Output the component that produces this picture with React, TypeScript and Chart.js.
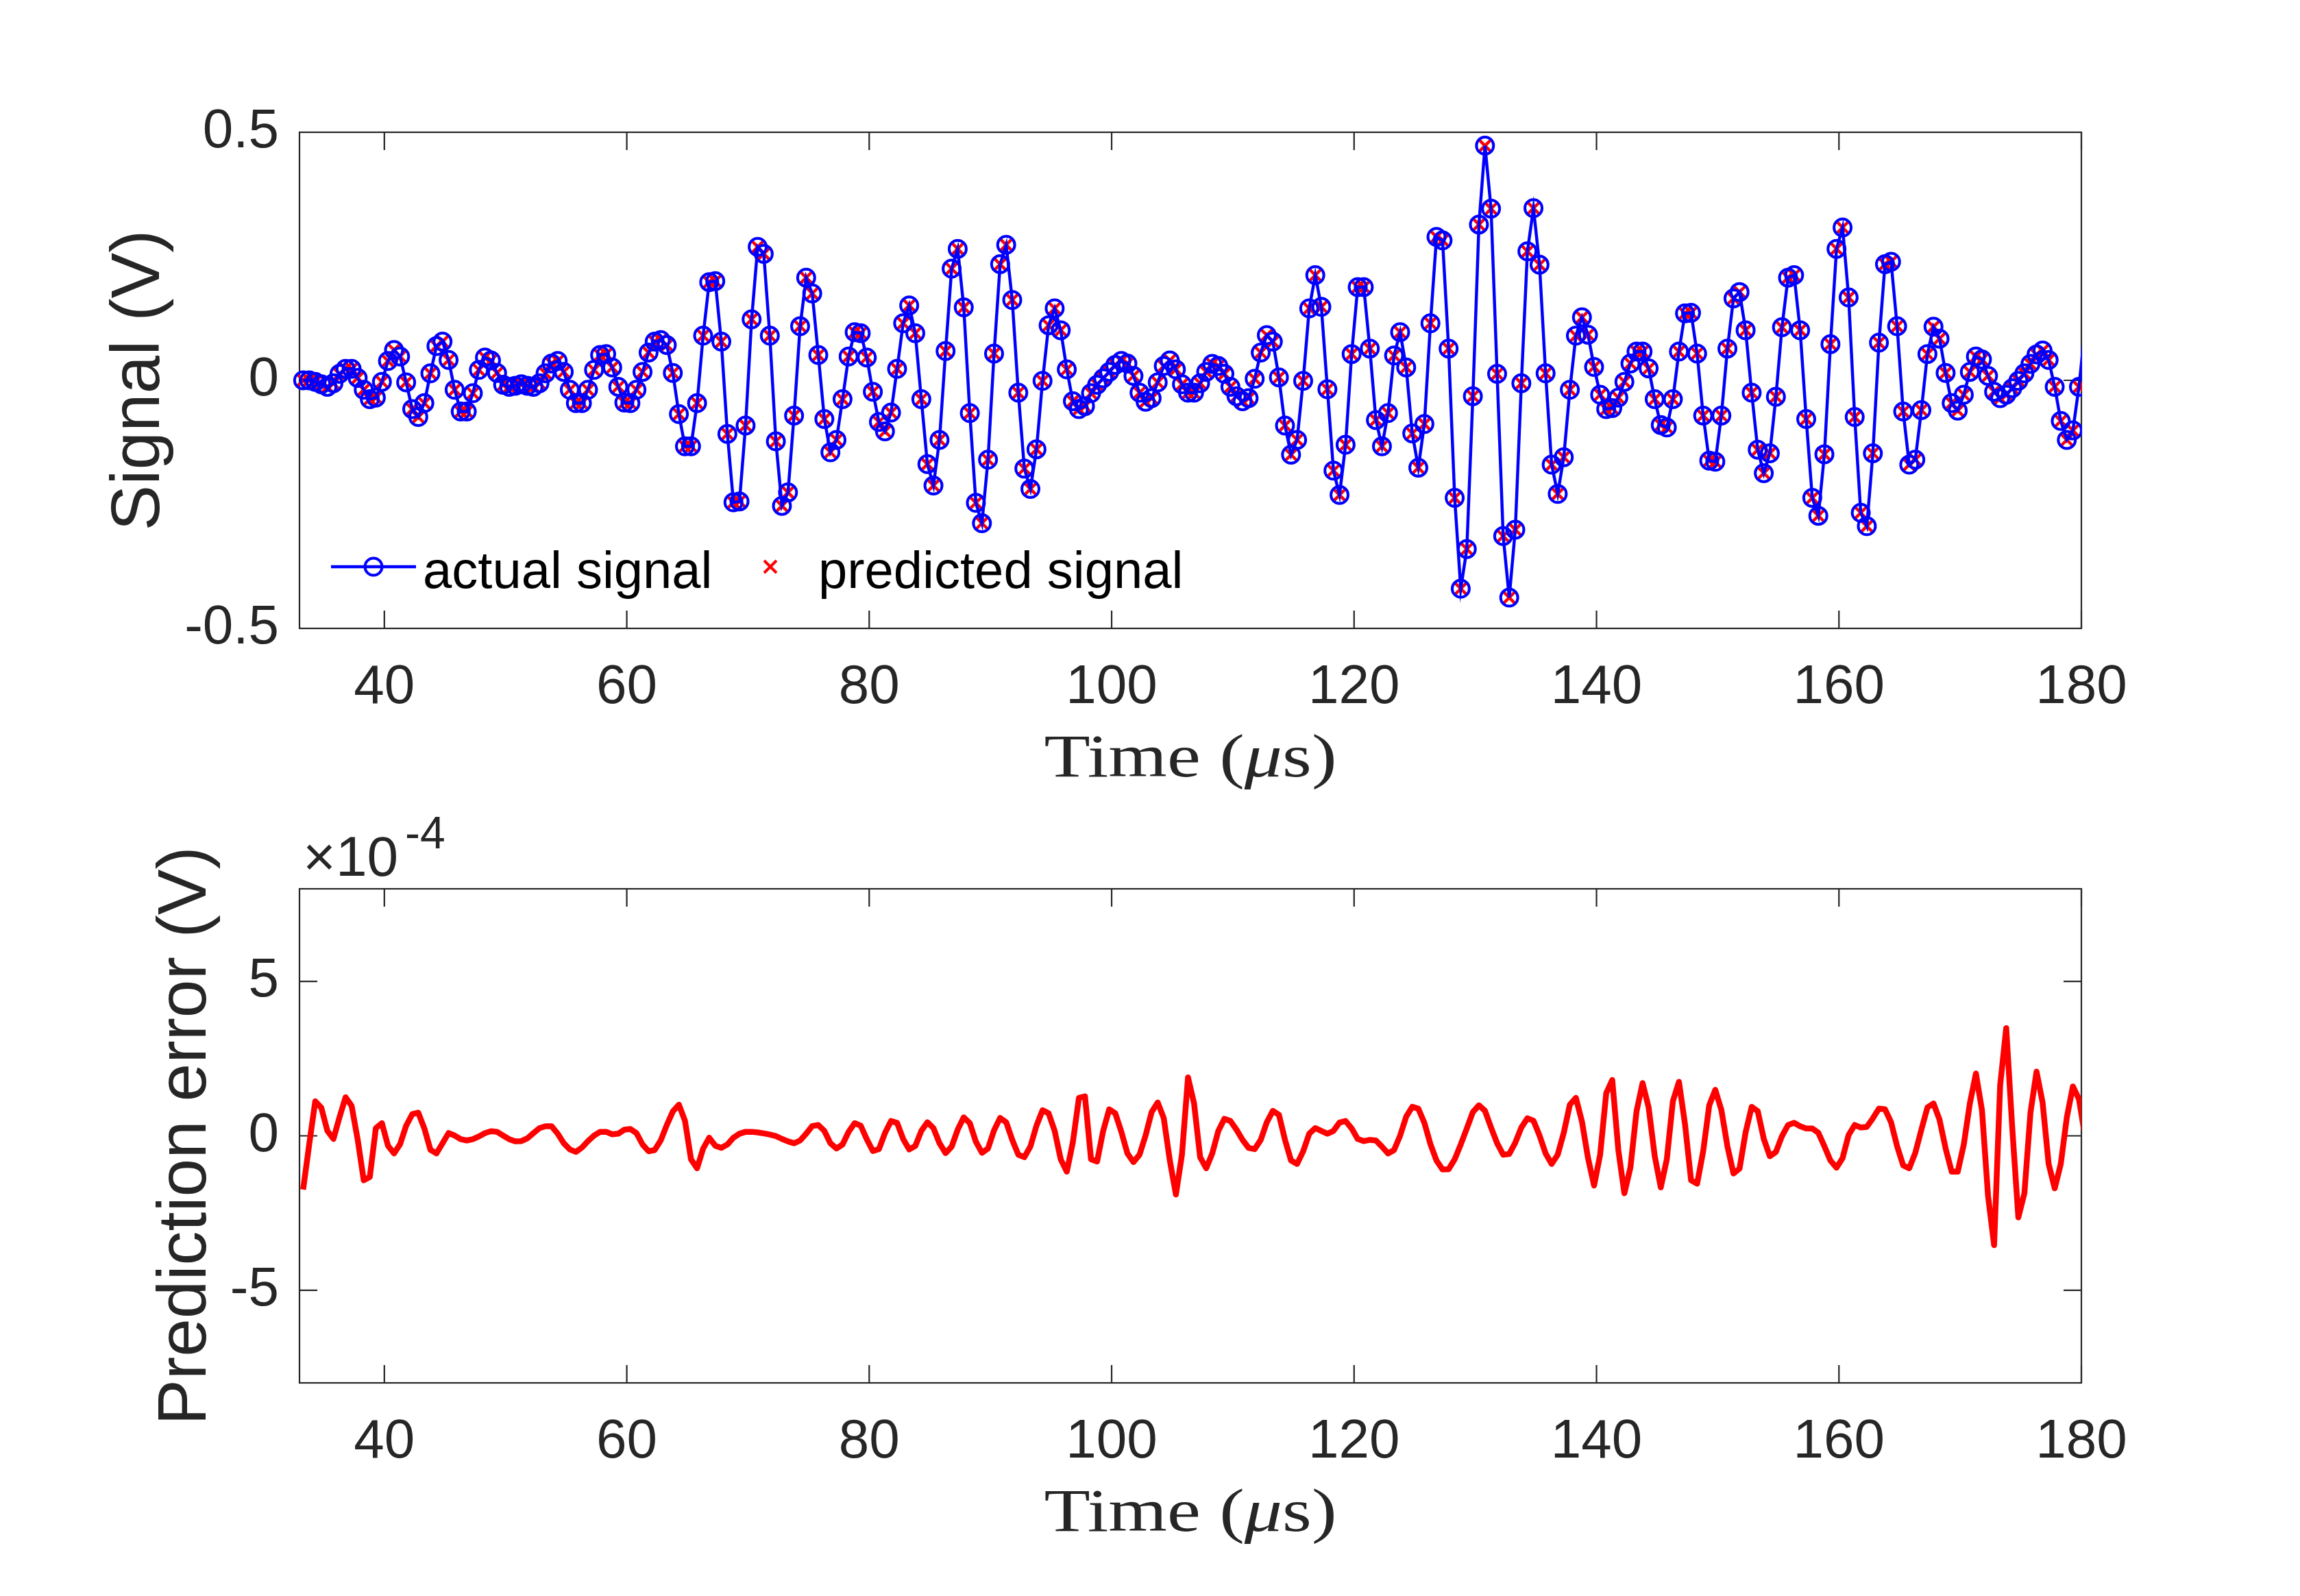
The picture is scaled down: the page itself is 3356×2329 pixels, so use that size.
import { useEffect, useRef } from "react"
import { Chart, registerables } from "chart.js"

Chart.register(...registerables)

// both records are sampled every 0.5 us, first sample at 33.3 us
const startTime = 33.3
const sampleStep = 0.5

// measured signal (V)
const actualSignal = [
  0, 0, -0.003, -0.008, -0.013, -0.006, 0.013, 0.023, 0.023, 0.005,
  -0.019, -0.038, -0.035, -0.003, 0.039, 0.061, 0.048, -0.004, -0.058, -0.074,
  -0.046, 0.014, 0.069, 0.078, 0.041, -0.019, -0.063, -0.063, -0.026, 0.021,
  0.046, 0.04, 0.015, -0.009, -0.013, -0.011, -0.008, -0.011, -0.013, -0.006,
  0.014, 0.034, 0.039, 0.017, -0.019, -0.046, -0.046, -0.019, 0.021, 0.051,
  0.053, 0.026, -0.013, -0.045, -0.046, -0.019, 0.017, 0.056, 0.078, 0.081,
  0.071, 0.015, -0.068, -0.133, -0.133, -0.046, 0.09, 0.198, 0.2, 0.078,
  -0.108, -0.246, -0.244, -0.091, 0.123, 0.269, 0.255, 0.09, -0.123, -0.253,
  -0.226, -0.071, 0.109, 0.207, 0.175, 0.051, -0.078, -0.145, -0.12, -0.038,
  0.048, 0.097, 0.095, 0.046, -0.023, -0.084, -0.103, -0.065, 0.023, 0.115,
  0.151, 0.095, -0.038, -0.169, -0.212, -0.12, 0.059, 0.225, 0.265, 0.147,
  -0.066, -0.247, -0.288, -0.16, 0.054, 0.234, 0.273, 0.162, -0.025, -0.178,
  -0.219, -0.139, -0.001, 0.111, 0.145, 0.101, 0.022, -0.042, -0.058, -0.052,
  -0.026, -0.009, 0.004, 0.017, 0.031, 0.039, 0.034, 0.009, -0.025, -0.043,
  -0.036, -0.004, 0.029, 0.04, 0.022, -0.008, -0.025, -0.025, -0.006, 0.017,
  0.033, 0.029, 0.013, -0.013, -0.032, -0.042, -0.036, 0.003, 0.056, 0.091,
  0.078, 0.006, -0.091, -0.15, -0.12, -0.001, 0.145, 0.212, 0.148, -0.018,
  -0.182, -0.231, -0.13, 0.053, 0.188, 0.188, 0.064, -0.08, -0.133, -0.066,
  0.05, 0.097, 0.026, -0.107, -0.176, -0.088, 0.115, 0.289, 0.282, 0.064,
  -0.237, -0.42, -0.34, -0.032, 0.314, 0.473, 0.346, 0.013, -0.314, -0.438,
  -0.301, -0.006, 0.26, 0.347, 0.233, 0.014, -0.17, -0.229, -0.155, -0.019,
  0.09, 0.127, 0.092, 0.027, -0.029, -0.058, -0.056, -0.035, -0.003, 0.034,
  0.058, 0.058, 0.024, -0.038, -0.09, -0.095, -0.038, 0.058, 0.135, 0.136,
  0.054, -0.071, -0.162, -0.164, -0.071, 0.064, 0.165, 0.178, 0.101, -0.025,
  -0.14, -0.187, -0.147, -0.033, 0.107, 0.207, 0.212, 0.101, -0.078, -0.237,
  -0.273, -0.149, 0.073, 0.265, 0.308, 0.167, -0.074, -0.267, -0.294, -0.147,
  0.076, 0.234, 0.239, 0.109, -0.063, -0.17, -0.16, -0.06, 0.053, 0.108,
  0.084, 0.015, -0.046, -0.061, -0.029, 0.017, 0.048, 0.042, 0.009, -0.023,
  -0.036, -0.029, -0.016, -0.001, 0.014, 0.033, 0.052, 0.06, 0.041, -0.013,
  -0.082, -0.12, -0.101, -0.013, 0.103,
]

// prediction error, in units of 1e-4 V
const predictionError = [
  -1.74, -0.28, 1.12, 0.91, 0.16, -0.1, 0.6, 1.25, 0.97, -0.12,
  -1.44, -1.33, 0.25, 0.41, -0.32, -0.57, -0.27, 0.33, 0.7, 0.75,
  0.24, -0.45, -0.57, -0.24, 0.09, 0.01, -0.11, -0.15, -0.11, -0.02,
  0.09, 0.15, 0.13, 0.01, -0.11, -0.18, -0.17, -0.08, 0.09, 0.25,
  0.31, 0.31, 0.07, -0.24, -0.44, -0.52, -0.38, -0.17, 0.01, 0.13,
  0.13, 0.05, 0.07, 0.2, 0.22, 0.09, -0.28, -0.5, -0.46, -0.15,
  0.35, 0.79, 1.01, 0.49, -0.76, -1.05, -0.41, -0.06, -0.32, -0.39,
  -0.28, -0.06, 0.07, 0.13, 0.13, 0.11, 0.08, 0.04, -0.01, -0.1,
  -0.18, -0.24, -0.15, 0.07, 0.32, 0.35, 0.16, -0.24, -0.41, -0.28,
  0.13, 0.41, 0.33, -0.11, -0.49, -0.43, 0.09, 0.48, 0.42, -0.1,
  -0.44, -0.33, 0.16, 0.44, 0.25, -0.24, -0.56, -0.35, 0.2, 0.6,
  0.41, -0.19, -0.55, -0.41, 0.18, 0.58, 0.44, -0.13, -0.61, -0.69,
  -0.34, 0.33, 0.83, 0.73, 0.16, -0.76, -1.16, -0.21, 1.23, 1.28,
  -0.76, -0.83, 0.16, 0.86, 0.73, 0.13, -0.57, -0.85, -0.61, 0.01,
  0.77, 1.08, 0.57, -0.8, -1.9, -0.61, 1.89, 1.05, -0.69, -1.05,
  -0.57, 0.16, 0.55, 0.48, 0.2, -0.13, -0.39, -0.43, -0.13, 0.44,
  0.81, 0.68, -0.13, -0.8, -0.91, -0.5, 0.07, 0.25, 0.16, 0.07,
  0.16, 0.43, 0.48, 0.24, -0.1, -0.17, -0.13, -0.15, -0.35, -0.57,
  -0.46, 0.01, 0.62, 0.94, 0.88, 0.42, -0.27, -0.8, -1.09, -1.08,
  -0.76, -0.28, 0.24, 0.77, 0.99, 0.81, 0.27, -0.24, -0.61, -0.59,
  -0.22, 0.27, 0.57, 0.49, 0.01, -0.57, -0.91, -0.61, 0.1, 1.01,
  1.23, 0.46, -0.72, -1.61, -0.61, 1.38, 1.81, -0.46, -1.86, -1.02,
  0.79, 1.71, 0.92, -0.65, -1.67, -0.76, 1.12, 1.75, 0.38, -1.44,
  -1.55, -0.5, 0.99, 1.49, 0.84, -0.34, -1.22, -1.06, 0.11, 0.94,
  0.8, -0.1, -0.66, -0.52, -0.01, 0.35, 0.42, 0.31, 0.24, 0.24,
  0.1, -0.34, -0.8, -1.03, -0.72, 0.03, 0.35, 0.27, 0.29, 0.57,
  0.88, 0.86, 0.44, -0.34, -0.96, -1.05, -0.55, 0.2, 0.92, 1.05,
  0.52, -0.41, -1.16, -1.16, -0.28, 1.05, 2.02, 0.83, -1.94, -3.54,
  1.64, 3.49, 0.24, -2.64, -1.86, 0.75, 2.08, 1.08, -0.91, -1.7,
  -0.91, 0.6, 1.6, 1.19, -0.02,
]

const timeTicks = [40, 60, 80, 100, 120, 140, 160, 180]
const signalTicks = [-0.5, 0, 0.5]
const signalTickLabels = ["-0.5", "0", "0.5"]
const errorTicks = [-5, 0, 5]
const errorTickLabels = ["-5", "0", "5"]

const X_MIN = 33
const X_MAX = 180

const AXIS_COLOR = "#262626"
const BLUE = "#0000ff"
const RED = "#ff0000"
const SANS = '"Liberation Sans", Arial, Helvetica, sans-serif'
const SERIF = '"Liberation Serif", "Times New Roman", serif'
const TICK_LEN = 26
const PAGE_W = 3356
const TOP_H = 1180
const BOTTOM_H = 1149

const times = actualSignal.map((_, i) => startTime + i * sampleStep)
const predictedSignal = actualSignal.map((v, i) => v - predictionError[i] * 1e-4)

function drawTimeTitle(ctx: CanvasRenderingContext2D, cx: number, baseline: number) {
  const size = 88
  const stretch = 1.25
  const parts: [string, boolean][] = [["Time (", false], ["\u03bc", true], ["s)", false]]
  const fontFor = (italic: boolean) => `${italic ? "italic " : ""}${size}px ${SERIF}`
  ctx.save()
  ctx.fillStyle = AXIS_COLOR
  ctx.textAlign = "left"
  ctx.textBaseline = "alphabetic"
  let total = 0
  for (const [s, it] of parts) {
    ctx.font = fontFor(it)
    total += ctx.measureText(s).width
  }
  ctx.translate(cx, baseline)
  ctx.scale(stretch, 1)
  let x = -total / 2
  for (const [s, it] of parts) {
    ctx.font = fontFor(it)
    ctx.fillText(s, x, 0)
    x += ctx.measureText(s).width
  }
  ctx.restore()
}

// box, inward ticks and axis titles in the MATLAB manner
function framePlugin(yTicks: number[], yTitle: string, yTitleX: number) {
  return {
    id: "matlabFrame",
    beforeDatasetsDraw(chart: any) {
      const { ctx, chartArea: a, scales } = chart
      ctx.save()
      ctx.strokeStyle = AXIS_COLOR
      ctx.lineWidth = 2.2
      ctx.strokeRect(a.left, a.top, a.right - a.left, a.bottom - a.top)
      ctx.beginPath()
      for (const v of timeTicks) {
        const px = scales.x.getPixelForValue(v)
        ctx.moveTo(px, a.bottom)
        ctx.lineTo(px, a.bottom - TICK_LEN)
        ctx.moveTo(px, a.top)
        ctx.lineTo(px, a.top + TICK_LEN)
      }
      for (const v of yTicks) {
        const py = scales.y.getPixelForValue(v)
        ctx.moveTo(a.left, py)
        ctx.lineTo(a.left + TICK_LEN, py)
        ctx.moveTo(a.right, py)
        ctx.lineTo(a.right - TICK_LEN, py)
      }
      ctx.stroke()
      ctx.restore()
    },
    afterDraw(chart: any) {
      const { ctx, chartArea: a } = chart
      ctx.save()
      ctx.fillStyle = AXIS_COLOR
      ctx.font = `100px ${SANS}`
      ctx.textAlign = "center"
      ctx.textBaseline = "alphabetic"
      ctx.translate(yTitleX, (a.top + a.bottom) / 2)
      ctx.rotate(-Math.PI / 2)
      ctx.fillText(yTitle, 0, 0)
      ctx.restore()
      drawTimeTitle(ctx, (a.left + a.right) / 2, a.bottom + 216)
    },
  }
}

const legendPlugin = {
  id: "insideLegend",
  afterDraw(chart: any) {
    const { ctx, chartArea: a } = chart
    const [actual, predicted] = chart.data.datasets
    const y = a.bottom - 90
    const x0 = a.left + 46
    ctx.save()
    ctx.strokeStyle = actual.borderColor
    ctx.lineWidth = 4.5
    ctx.beginPath()
    ctx.moveTo(x0, y)
    ctx.lineTo(x0 + 124, y)
    ctx.stroke()
    ctx.lineWidth = 4
    ctx.beginPath()
    ctx.arc(x0 + 62, y, 12.5, 0, Math.PI * 2)
    ctx.stroke()

    const mx = x0 + 641
    ctx.strokeStyle = predicted.pointBorderColor
    ctx.lineWidth = 4
    ctx.beginPath()
    ctx.moveTo(mx - 9, y - 9)
    ctx.lineTo(mx + 9, y + 9)
    ctx.moveTo(mx - 9, y + 9)
    ctx.lineTo(mx + 9, y - 9)
    ctx.stroke()

    ctx.fillStyle = "#000"
    ctx.font = `76px ${SANS}`
    ctx.textAlign = "left"
    ctx.textBaseline = "alphabetic"
    ctx.fillText(actual.label, x0 + 134, y + 31)
    ctx.fillText(predicted.label, x0 + 711, y + 31)
    ctx.restore()
  },
}

const exponentPlugin = {
  id: "exponentLabel",
  afterDraw(chart: any) {
    const { ctx, chartArea: a } = chart
    ctx.save()
    ctx.fillStyle = AXIS_COLOR
    ctx.textAlign = "left"
    ctx.textBaseline = "alphabetic"
    ctx.font = `82px ${SANS}`
    const base = "\u00d710"
    ctx.fillText(base, a.left + 5, a.top - 19)
    const w = ctx.measureText(base).width
    ctx.font = `66px ${SANS}`
    ctx.fillText("-4", a.left + 5 + w + 10, a.top - 59)
    ctx.restore()
  },
}

function timeAxis(height: number) {
  return {
    type: "linear" as const,
    min: X_MIN,
    max: X_MAX,
    bounds: "data" as const,
    grid: { display: false, drawTicks: false },
    border: { display: false },
    afterBuildTicks: (s: any) => {
      s.ticks = timeTicks.map((v) => ({ value: v }))
    },
    afterFit: (s: any) => {
      s.height = height
    },
    ticks: {
      autoSkip: false,
      maxRotation: 0,
      padding: 39,
      color: AXIS_COLOR,
      font: { size: 80, family: SANS },
      callback: (v: any) => String(v),
    },
  }
}

function valueAxis(min: number, max: number, ticks: number[], labels: string[]) {
  return {
    type: "linear" as const,
    min,
    max,
    bounds: "data" as const,
    grid: { display: false, drawTicks: false },
    border: { display: false },
    afterBuildTicks: (s: any) => {
      s.ticks = ticks.map((v) => ({ value: v }))
    },
    afterFit: (s: any) => {
      s.width = 437
    },
    ticks: {
      autoSkip: false,
      padding: 30,
      color: AXIS_COLOR,
      font: { size: 80, family: SANS },
      callback: (_v: any, i: number) => labels[i],
    },
  }
}

export default function App() {
  const topRef = useRef<HTMLCanvasElement>(null)
  const bottomRef = useRef<HTMLCanvasElement>(null)

  useEffect(() => {
    document.body.style.margin = "0"
    document.body.style.overflow = "hidden"
    if (!topRef.current || !bottomRef.current) return

    const markerRadius = (r: number) => (c: any) => (c.raw && c.raw.x > X_MAX ? 0 : r)

    const top = new Chart(topRef.current, {
      type: "line",
      data: {
        datasets: [
          {
            label: "actual signal",
            data: times.map((t, i) => ({ x: t, y: actualSignal[i] })),
            borderColor: BLUE,
            borderWidth: 4.5,
            tension: 0,
            pointStyle: "circle",
            pointRadius: markerRadius(12.5),
            pointBorderWidth: 4,
            pointBorderColor: BLUE,
            pointBackgroundColor: "rgba(0,0,0,0)",
            clip: { left: 20, top: 20, right: 1, bottom: 20 },
          },
          {
            label: "predicted signal",
            data: times.map((t, i) => ({ x: t, y: predictedSignal[i] })),
            showLine: false,
            pointStyle: "crossRot",
            pointRadius: markerRadius(13.5),
            pointBorderWidth: 4.5,
            pointBorderColor: RED,
            pointBackgroundColor: RED,
            clip: { left: 20, top: 20, right: 1, bottom: 20 },
          },
        ],
      },
      options: {
        animation: false,
        responsive: false,
        devicePixelRatio: 1,
        events: [],
        layout: { padding: { left: 0, top: 193, right: PAGE_W - 3037, bottom: 0 } },
        plugins: { legend: { display: false }, tooltip: { enabled: false } },
        scales: {
          x: timeAxis(TOP_H - 917),
          y: valueAxis(-0.5, 0.5, signalTicks, signalTickLabels),
        },
      },
      plugins: [framePlugin(signalTicks, "Signal (V)", 232), legendPlugin],
    })

    const bottom = new Chart(bottomRef.current, {
      type: "line",
      data: {
        datasets: [
          {
            label: "prediction error",
            data: times.map((t, i) => ({ x: t, y: predictionError[i] })),
            borderColor: RED,
            borderWidth: 8.5,
            borderJoinStyle: "round",
            tension: 0,
            pointRadius: 0,
            clip: 0,
          },
        ],
      },
      options: {
        animation: false,
        responsive: false,
        devicePixelRatio: 1,
        events: [],
        layout: { padding: { left: 0, top: 117, right: PAGE_W - 3037, bottom: 0 } },
        plugins: { legend: { display: false }, tooltip: { enabled: false } },
        scales: {
          x: timeAxis(BOTTOM_H - 838),
          y: valueAxis(-8, 8, errorTicks, errorTickLabels),
        },
      },
      plugins: [framePlugin(errorTicks, "Prediction error (V)", 300), exponentPlugin],
    })

    return () => {
      top.destroy()
      bottom.destroy()
    }
  }, [])

  return (
    <div style={{ position: "relative", width: PAGE_W, height: TOP_H + BOTTOM_H, background: "#fff" }}>
      <canvas
        ref={topRef}
        width={PAGE_W}
        height={TOP_H}
        style={{ position: "absolute", left: 0, top: 0, width: PAGE_W, height: TOP_H }}
      />
      <canvas
        ref={bottomRef}
        width={PAGE_W}
        height={BOTTOM_H}
        style={{ position: "absolute", left: 0, top: TOP_H, width: PAGE_W, height: BOTTOM_H }}
      />
    </div>
  )
}
